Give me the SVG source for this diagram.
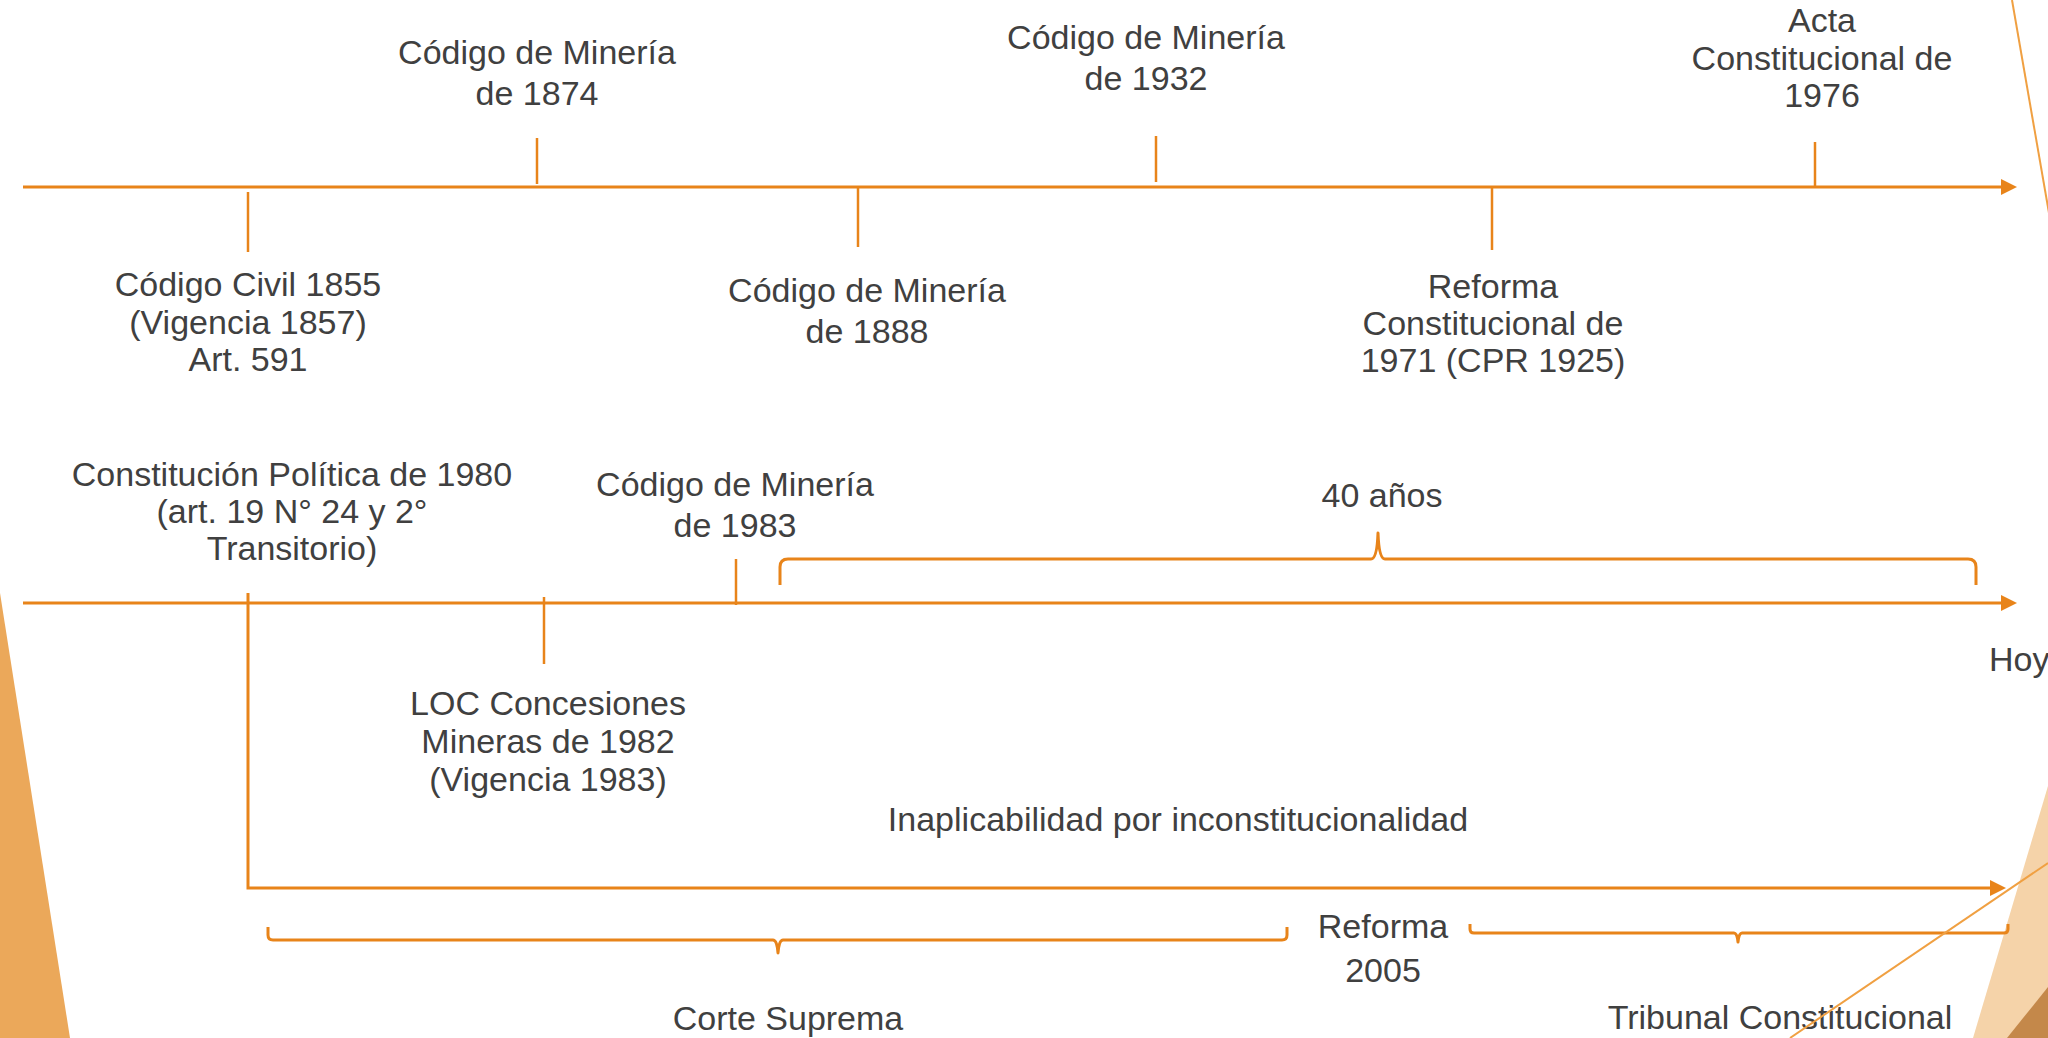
<svg xmlns="http://www.w3.org/2000/svg" width="2048" height="1038" viewBox="0 0 2048 1038">
<style>
  .lbl { font-family: "Liberation Sans", Arial, sans-serif; font-size: 34px; fill: #404040; text-anchor: middle; }
  .axis { stroke: #E8841A; stroke-width: 3; fill: none; }
  .tick { stroke: #E8841A; stroke-width: 2.5; fill: none; }
  .brace { stroke: #E8841A; stroke-width: 3; fill: none; stroke-linejoin: round; }
  .deco-line { stroke: #F0A042; stroke-width: 2; fill: none; }
</style>
<defs>
  <marker id="arrow" viewBox="0 0 16 16" refX="1" refY="8" markerWidth="16" markerHeight="16" markerUnits="userSpaceOnUse" orient="auto">
    <path d="M0,0 L16,8 L0,16 z" fill="#E8841A"/>
  </marker>
</defs>
<rect width="2048" height="1038" fill="#FFFFFF"/>
<g id="decoration">
  <polygon points="0,593 70,1038 0,1038" fill="#EBA85A"/>
  <polygon points="2048,786 2048,1038 1973,1038" fill="#F5D3A9"/>
  <polygon points="2048,987 2048,1038 2007,1038" fill="#C4884A"/>
</g>
<g id="connectors">
  <line class="axis" x1="23" y1="187" x2="2002" y2="187" marker-end="url(#arrow)"/>
  <line class="axis" x1="23" y1="603" x2="2002" y2="603" marker-end="url(#arrow)"/>
  <path class="axis" d="M248,593 L248,888 L1991,888" marker-end="url(#arrow)"/>
  <line class="tick" x1="248" y1="192" x2="248" y2="252"/>
  <line class="tick" x1="537" y1="138" x2="537" y2="184"/>
  <line class="tick" x1="858" y1="186" x2="858" y2="247"/>
  <line class="tick" x1="1156" y1="136" x2="1156" y2="182"/>
  <line class="tick" x1="1492" y1="187" x2="1492" y2="250"/>
  <line class="tick" x1="1815" y1="142" x2="1815" y2="187"/>
  <line class="tick" x1="544" y1="597" x2="544" y2="664"/>
  <line class="tick" x1="736" y1="559" x2="736" y2="605"/>
  <path class="brace" d="M780,585 L780,567 Q780,559 788,559 L1371,559 Q1377,559 1378,533 Q1379,559 1385,559 L1968,559 Q1976,559 1976,567 L1976,585"/>
  <path class="brace" d="M268,927 L268,935 Q268,940 273,940 L773,940 Q777,940 778,953 Q779,940 783,940 L1282,940 Q1287,940 1287,935 L1287,927"/>
  <path class="brace" d="M1470,924 L1470,929 Q1470,933 1474,933 L1734,933 Q1737,933 1738,942 Q1739,933 1742,933 L2004,933 Q2008,933 2008,929 L2008,924"/>
</g>
<g id="n1855">
  <text class="lbl" x="248" y="296">Código Civil 1855</text>
  <text class="lbl" x="248" y="334">(Vigencia 1857)</text>
  <text class="lbl" x="248" y="371">Art. 591</text>
</g>
<g id="n1874">
  <text class="lbl" x="537" y="64">Código de Minería</text>
  <text class="lbl" x="537" y="105">de 1874</text>
</g>
<g id="n1888">
  <text class="lbl" x="867" y="302">Código de Minería</text>
  <text class="lbl" x="867" y="343">de 1888</text>
</g>
<g id="n1932">
  <text class="lbl" x="1146" y="49">Código de Minería</text>
  <text class="lbl" x="1146" y="90">de 1932</text>
</g>
<g id="n1971">
  <text class="lbl" x="1493" y="298">Reforma</text>
  <text class="lbl" x="1493" y="335">Constitucional de</text>
  <text class="lbl" x="1493" y="372">1971 (CPR 1925)</text>
</g>
<g id="n1976">
  <text class="lbl" x="1822" y="32">Acta</text>
  <text class="lbl" x="1822" y="70">Constitucional de</text>
  <text class="lbl" x="1822" y="107">1976</text>
</g>
<g id="n1980">
  <text class="lbl" x="292" y="486">Constitución Política de 1980</text>
  <text class="lbl" x="292" y="523">(art. 19 N° 24 y 2°</text>
  <text class="lbl" x="292" y="560">Transitorio)</text>
</g>
<g id="n1983">
  <text class="lbl" x="735" y="496">Código de Minería</text>
  <text class="lbl" x="735" y="537">de 1983</text>
</g>
<g id="n1982">
  <text class="lbl" x="548" y="715">LOC Concesiones</text>
  <text class="lbl" x="548" y="753">Mineras de 1982</text>
  <text class="lbl" x="548" y="791">(Vigencia 1983)</text>
</g>
<g id="n40">
  <text class="lbl" x="1382" y="507">40 años</text>
</g>
<g id="nHoy">
  <text class="lbl" x="1989" y="671" style="text-anchor:start">Hoy</text>
</g>
<g id="nInap">
  <text class="lbl" x="1178" y="831">Inaplicabilidad por inconstitucionalidad</text>
</g>
<g id="n2005">
  <text class="lbl" x="1383" y="938">Reforma</text>
  <text class="lbl" x="1383" y="982">2005</text>
</g>
<g id="nCorte">
  <text class="lbl" x="788" y="1030">Corte Suprema</text>
</g>
<g id="nTribunal">
  <text class="lbl" x="1780" y="1029">Tribunal Constitucional</text>
</g>
<g id="decoration-lines">
  <line class="deco-line" x1="2012" y1="0" x2="2050" y2="219"/>
  <line class="deco-line" x1="2048" y1="863" x2="1790" y2="1038"/>
</g>
</svg>
